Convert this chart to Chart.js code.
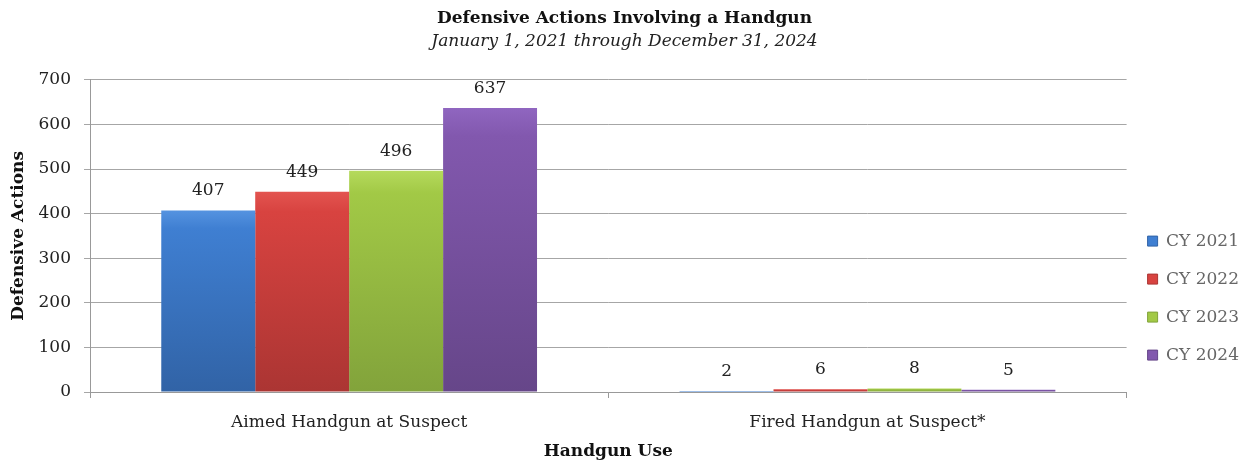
<!DOCTYPE html>
<html>
<head>
<meta charset="utf-8">
<script src="https://cdn.jsdelivr.net/npm/chart.js@4"></script>
<style>
  html, body { margin: 0; padding: 0; background: #fff; }
  #wrap { width: 1254px; height: 466px; }
</style>
</head>
<body>
<div id="wrap"><canvas id="grafico" width="1254" height="466"></canvas></div>
<script>
const categorias = ['Aimed Handgun at Suspect', 'Fired Handgun at Suspect*'];
const series = ['CY 2021', 'CY 2022', 'CY 2023', 'CY 2024'];
const cy2021 = [407, 2];
const cy2022 = [449, 6];
const cy2023 = [496, 8];
const cy2024 = [637, 5];
const ticksY = [0, 100, 200, 300, 400, 500, 600, 700];

const fuente = "'DejaVu Serif', 'Liberation Serif', serif";

// top / middle / bottom shades for each series
const tonos = [
  ['#5593e0', '#3f7fd2', '#3163a6'],
  ['#e35450', '#d84340', '#ab3533'],
  ['#b5da5c', '#a2c946', '#82a33b'],
  ['#9066c0', '#8258ae', '#664689']
];

function relleno(i) {
  return function(ctx) {
    const chart = ctx.chart;
    const y = chart.scales.y;
    if (!y || ctx.raw === undefined) return tonos[i][1];
    const top = y.getPixelForValue(ctx.raw);
    const base = y.getPixelForValue(0);
    if (!isFinite(top) || base - top < 2) return tonos[i][1];
    const g = chart.ctx.createLinearGradient(0, top, 0, base);
    g.addColorStop(0, tonos[i][0]);
    g.addColorStop(0.1, tonos[i][1]);
    g.addColorStop(1, tonos[i][2]);
    return g;
  };
}

const valores = [cy2021, cy2022, cy2023, cy2024];

const etiquetas = {
  id: 'etiquetas',
  afterDatasetsDraw(chart) {
    const c = chart.ctx;
    c.save();
    c.font = '17px ' + fuente;
    c.fillStyle = '#222';
    c.textAlign = 'center';
    c.textBaseline = 'bottom';
    chart.data.datasets.forEach((ds, i) => {
      chart.getDatasetMeta(i).data.forEach((el, j) => {
        c.fillText(String(ds.data[j]), el.x, el.y - 11);
      });
    });
    c.restore();
  }
};

new Chart(document.getElementById('grafico').getContext('2d'), {
  type: 'bar',
  data: {
    labels: categorias,
    datasets: series.map((s, i) => ({
      label: s,
      data: valores[i],
      backgroundColor: relleno(i),
      borderWidth: 0,
      categoryPercentage: 0.725,
      barPercentage: 1
    }))
  },
  options: {
    responsive: false,
    animation: false,
    layout: { padding: { left: 0, right: 5, top: 0, bottom: 0 } },
    plugins: {
      title: {
        display: true,
        text: 'Defensive Actions Involving a Handgun',
        color: '#111',
        font: { family: fuente, size: 17, weight: 'bold' },
        padding: { top: 8, bottom: 3 }
      },
      subtitle: {
        display: true,
        text: 'January 1, 2021 through December 31, 2024',
        color: '#222',
        font: { family: fuente, size: 17, style: 'italic' },
        padding: { top: 0, bottom: 28 }
      },
      legend: {
        position: 'right',
        align: 'center',
        fullSize: false,
        title: { display: true, text: ' ', padding: { top: 122 }, font: { size: 2 } },
        labels: {
          boxWidth: 10,
          boxHeight: 10,
          padding: 21,
          color: '#222',
          font: { family: fuente, size: 17 },
          generateLabels(chart) {
            return chart.data.datasets.map((ds, i) => ({
              text: ds.label,
              fillStyle: tonos[i][1],
              strokeStyle: tonos[i][2],
              lineWidth: 1,
              datasetIndex: i
            }));
          }
        }
      },
      tooltip: { enabled: false }
    },
    scales: {
      x: {
        offset: true,
        grid: { display: true, offset: true, drawOnChartArea: false, tickLength: 6, color: '#999' },
        border: { color: '#999' },
        ticks: { color: '#222', font: { family: fuente, size: 17 }, padding: 14 },
        title: { display: true, text: 'Handgun Use', color: '#111', font: { family: fuente, size: 17, weight: 'bold' }, padding: { top: 0 } },
        afterFit(s) { s.height = 74; }
      },
      y: {
        min: 0,
        max: 700,
        afterBuildTicks(s) { s.ticks = ticksY.map(v => ({ value: v })); },
        grid: { color: '#a6a6a6', tickLength: 6 },
        border: { color: '#999' },
        ticks: { color: '#222', font: { family: fuente, size: 17 }, padding: 13 },
        title: { display: true, text: 'Defensive Actions', color: '#111', font: { family: fuente, size: 17, weight: 'bold' }, padding: 8 },
        afterFit(s) { s.width = 90; }
      }
    }
  },
  plugins: [etiquetas]
});
</script>
</body>
</html>
